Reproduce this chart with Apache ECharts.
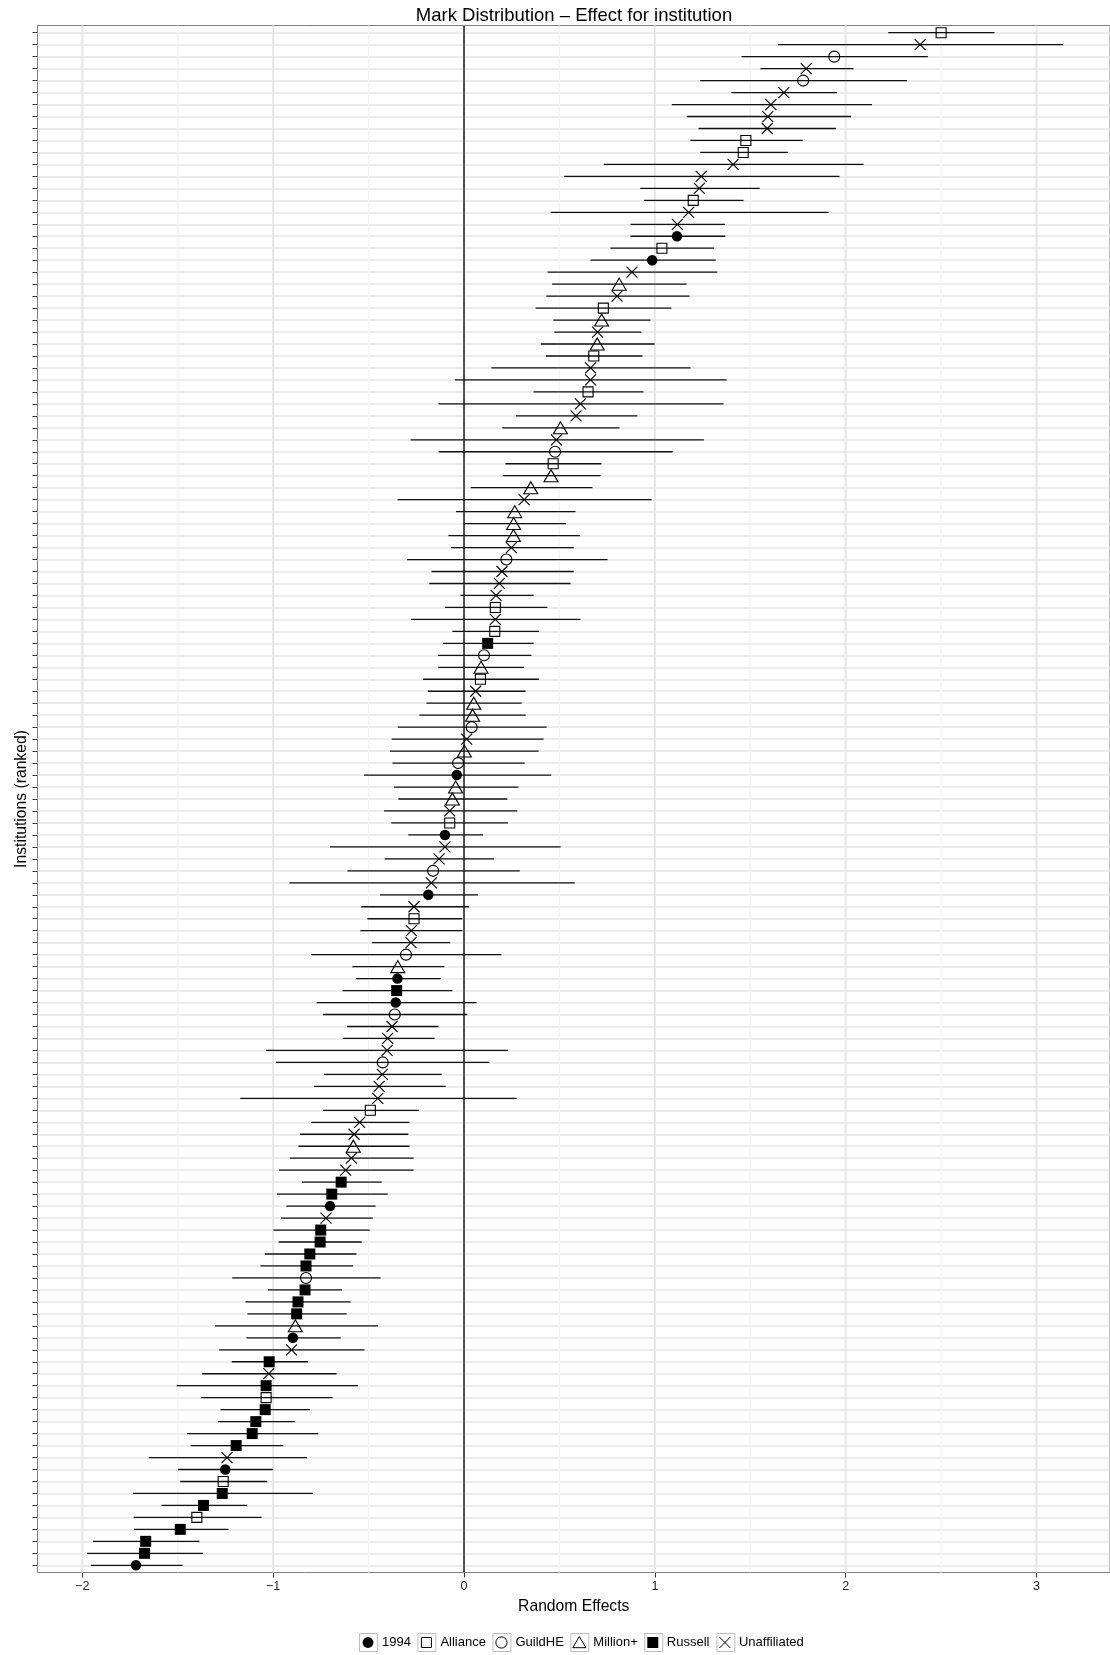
<!DOCTYPE html>
<html><head><meta charset="utf-8">
<script src="https://cdn.jsdelivr.net/npm/echarts@6/dist/echarts.min.js"></script>
<style>html,body{margin:0;padding:0;background:#fff}#c{width:1110px;height:1655px}</style>
</head><body><div id="c"></div>
<script>
// ---- DATA (ranked top to bottom) ----
const groups = ['1994', 'Alliance', 'GuildHE', 'Million+', 'Russell', 'Unaffiliated'];
const groupCodes = { N: '1994', A: 'Alliance', G: 'GuildHE', M: 'Million+', R: 'Russell', U: 'Unaffiliated' };
const rowGroup = [
  'A','U','G','U','G','U','U','U','U','A',
  'A','U','U','U','A','U','U','N','A','N',
  'U','M','U','A','M','U','M','A','U','U',
  'A','U','U','M','U','G','A','M','M','U',
  'M','M','M','U','G','U','U','U','A','U',
  'A','R','G','M','A','U','M','M','G','U',
  'M','G','N','M','M','U','A','N','U','U',
  'G','U','N','U','A','U','U','G','M','N',
  'R','N','G','U','U','U','G','U','U','U',
  'A','U','U','M','U','U','R','R','N','U',
  'R','R','R','R','G','R','R','R','M','N',
  'U','R','U','R','A','R','R','R','R','U',
  'N','A','R','R','A','R','R','R','N'
];
const estimates = [
  2.500, 2.390, 1.940, 1.793, 1.777, 1.676, 1.608, 1.592, 1.589, 1.477,
  1.463, 1.410, 1.243, 1.233, 1.201, 1.177, 1.118, 1.116, 1.037, 0.986,
  0.880, 0.813, 0.802, 0.730, 0.721, 0.700, 0.698, 0.680, 0.663, 0.663,
  0.650, 0.610, 0.587, 0.505, 0.484, 0.477, 0.467, 0.456, 0.350, 0.315,
  0.266, 0.260, 0.259, 0.248, 0.222, 0.199, 0.185, 0.168, 0.164, 0.164,
  0.161, 0.124, 0.105, 0.089, 0.086, 0.061, 0.051, 0.045, 0.040, 0.014,
  0.002, -0.031, -0.038, -0.044, -0.061, -0.075, -0.075, -0.100, -0.100, -0.131,
  -0.162, -0.171, -0.187, -0.262, -0.262, -0.276, -0.278, -0.304, -0.347, -0.349,
  -0.353, -0.358, -0.363, -0.377, -0.400, -0.403, -0.426, -0.428, -0.445, -0.452,
  -0.491, -0.547, -0.576, -0.580, -0.590, -0.620, -0.644, -0.693, -0.702, -0.723,
  -0.751, -0.754, -0.808, -0.828, -0.828, -0.833, -0.870, -0.877, -0.884, -0.897,
  -0.904, -1.021, -1.023, -1.037, -1.037, -1.042, -1.091, -1.110, -1.194, -1.242,
  -1.251, -1.262, -1.267, -1.365, -1.400, -1.487, -1.668, -1.674, -1.719
];
const lower = [
  2.223, 1.645, 1.454, 1.553, 1.238, 1.401, 1.089, 1.167, 1.229, 1.186,
  1.238, 0.732, 0.525, 0.923, 0.943, 0.454, 0.872, 0.872, 0.767, 0.663,
  0.438, 0.462, 0.431, 0.375, 0.468, 0.473, 0.403, 0.429, 0.143, -0.048,
  0.364, -0.134, 0.272, 0.201, -0.280, -0.133, 0.217, 0.203, 0.035, -0.348,
  -0.042, -0.003, -0.082, -0.068, -0.299, -0.170, -0.182, -0.019, -0.100, -0.278,
  -0.061, -0.110, -0.136, -0.135, -0.215, -0.190, -0.197, -0.234, -0.347, -0.379,
  -0.388, -0.375, -0.524, -0.368, -0.344, -0.419, -0.381, -0.292, -0.702, -0.416,
  -0.611, -0.915, -0.440, -0.538, -0.506, -0.543, -0.482, -0.801, -0.585, -0.566,
  -0.637, -0.772, -0.740, -0.613, -0.636, -1.037, -0.985, -0.733, -0.787, -1.173,
  -0.739, -0.801, -0.859, -0.868, -0.913, -0.969, -0.849, -0.980, -0.931, -0.959,
  -0.999, -0.971, -1.044, -1.067, -1.215, -1.027, -1.145, -1.135, -1.305, -1.140,
  -1.283, -1.217, -1.372, -1.506, -1.377, -1.276, -1.290, -1.452, -1.433, -1.652,
  -1.499, -1.487, -1.735, -1.585, -1.731, -1.729, -1.944, -1.976, -1.956
];
const upper = [
  2.780, 3.140, 2.431, 2.041, 2.321, 1.954, 2.138, 2.028, 1.949, 1.775,
  1.697, 2.094, 1.968, 1.550, 1.465, 1.911, 1.367, 1.369, 1.310, 1.319,
  1.327, 1.166, 1.182, 1.087, 0.977, 0.929, 0.998, 0.935, 1.187, 1.376,
  0.940, 1.360, 0.908, 0.815, 1.257, 1.093, 0.720, 0.715, 0.673, 0.983,
  0.584, 0.535, 0.607, 0.575, 0.752, 0.575, 0.558, 0.365, 0.437, 0.610,
  0.393, 0.365, 0.353, 0.315, 0.392, 0.323, 0.302, 0.323, 0.433, 0.417,
  0.391, 0.318, 0.457, 0.285, 0.227, 0.279, 0.230, 0.100, 0.506, 0.157,
  0.292, 0.580, 0.073, 0.026, -0.009, -0.009, -0.072, 0.196, -0.103, -0.122,
  -0.061, 0.066, 0.017, -0.134, -0.154, 0.230, 0.133, -0.117, -0.096, 0.276,
  -0.237, -0.285, -0.292, -0.285, -0.264, -0.264, -0.431, -0.400, -0.463, -0.478,
  -0.494, -0.536, -0.564, -0.581, -0.437, -0.639, -0.595, -0.615, -0.450, -0.646,
  -0.522, -0.817, -0.668, -0.556, -0.689, -0.808, -0.887, -0.764, -0.947, -0.823,
  -1.000, -1.031, -0.792, -1.136, -1.061, -1.234, -1.386, -1.368, -1.475
];
const xTicks = [-2, -1, 0, 1, 2, 3];
const xMinorTicks = [-1.5, -0.5, 0.5, 1.5, 2.5];
const zeroLine = [0];

// ---- STYLE ----
const FONT = "'Liberation Sans', Arial, Helvetica, sans-serif";
const X_MIN = -2.235, X_MAX = 3.385;
const N = estimates.length;
const CROSS = 'path://M0,0L10,10M10,0L0,10';
const groupStyle = {
  '1994':         { symbol: 'circle',   size: 10.5, item: { color: '#000', opacity: 1 } },
  'Alliance':     { symbol: 'rect',     size: 10,   item: { color: 'rgba(0,0,0,0)', borderColor: '#000', borderWidth: 1.1, opacity: 1 } },
  'GuildHE':      { symbol: 'circle',   size: 11,   item: { color: 'rgba(0,0,0,0)', borderColor: '#000', borderWidth: 1.1, opacity: 1 } },
  'Million+':     { symbol: 'triangle', size: [14, 12], item: { color: 'rgba(0,0,0,0)', borderColor: '#000', borderWidth: 1.1, opacity: 1 } },
  'Russell':      { symbol: 'rect',     size: 11,   item: { color: '#000', opacity: 1 } },
  'Unaffiliated': { symbol: CROSS,      size: 11,   item: { color: 'rgba(0,0,0,0)', borderColor: '#000', borderWidth: 1.1, opacity: 1 } }
};
// legend icons: symbol centred in an 18x18 box (corner moveTos keep the box)
const BOX = 'M0,0M18,18';
const legendIcons = {
  '1994': 'path://' + BOX + 'M14.4,9A5.4,5.4,0,1,1,3.6,9A5.4,5.4,0,1,1,14.4,9Z',
  'Alliance': 'path://' + BOX + 'M4,4L14,4L14,14L4,14Z',
  'GuildHE': 'path://' + BOX + 'M14.6,9A5.6,5.6,0,1,1,3.4,9A5.6,5.6,0,1,1,14.6,9Z',
  'Million+': 'path://' + BOX + 'M9,3L15.6,14.2L2.4,14.2Z',
  'Russell': 'path://' + BOX + 'M3.5,3.5L14.5,3.5L14.5,14.5L3.5,14.5Z',
  'Unaffiliated': 'path://' + BOX + 'M3.5,3.5L14.5,14.5M14.5,3.5L3.5,14.5'
};

const scatterSeries = groups.map(g => {
  const st = groupStyle[g];
  const data = [];
  rowGroup.forEach((c, i) => { if (groupCodes[c] === g) data.push([estimates[i], i]); });
  return {
    name: g, type: 'scatter', xAxisIndex: 1, yAxisIndex: 1,
    symbol: st.symbol, symbolSize: st.size, itemStyle: st.item,
    data, z: 5, silent: true
  };
});

const vLine = (color, width) => (params, api) => {
  const x = api.coord([api.value(0), 0])[0];
  const cs = params.coordSys;
  return { type: 'line', shape: { x1: x, y1: cs.y, x2: x, y2: cs.y + cs.height },
           style: { stroke: color, lineWidth: width } };
};

const chart = echarts.init(document.getElementById('c'), null, { renderer: 'canvas' });
chart.setOption({
  animation: false,
  backgroundColor: '#fff',
  textStyle: { fontFamily: FONT },
  title: {
    text: 'Mark Distribution \u2013 Effect for institution',
    left: 574, top: 6, padding: 0, textAlign: 'center',
    textStyle: { fontSize: 18.5, fontWeight: 'normal', color: '#000', fontFamily: FONT }
  },
  grid: [
    { left: 37.5, width: 1073.5, top: 25.5, height: 1547, show: true, borderColor: '#7f7f7f', borderWidth: 1, backgroundColor: 'rgba(0,0,0,0)' },
    { left: 37.5, width: 1073.5, top: 32.7, height: 1532.6 }
  ],
  xAxis: [
    { type: 'value', gridIndex: 0, min: X_MIN, max: X_MAX,
      splitLine: { show: false }, axisLine: { show: false, onZero: false },
      axisTick: { show: true, customValues: xTicks, length: 5, lineStyle: { color: '#333' } },
      axisLabel: { customValues: xTicks, formatter: v => String(v).replace('-', '\u2212'), margin: 8, fontSize: 12.5, color: '#222', fontFamily: FONT },
      name: 'Random Effects', nameLocation: 'middle', nameGap: 21,
      nameTextStyle: { fontSize: 15.7, color: '#000', fontFamily: FONT } },
    { type: 'value', gridIndex: 1, min: X_MIN, max: X_MAX, show: false }
  ],
  yAxis: [
    { type: 'value', gridIndex: 0, min: 0, max: 1, show: false },
    { type: 'value', gridIndex: 1, min: 0, max: N - 1, interval: 1, inverse: true,
      axisLine: { show: false, onZero: false }, axisLabel: { show: false },
      axisTick: { show: true, length: 5, lineStyle: { color: '#333' } },
      splitLine: { show: true, lineStyle: { color: '#E6E6E6', width: 1.6 } },
      name: 'Institutions (ranked)', nameLocation: 'middle', nameRotate: 90, nameGap: 8,
      nameTextStyle: { fontSize: 15.7, color: '#000', fontFamily: FONT } }
  ],
  legend: [
    { data: groups.map(g => ({ name: g, icon: 'rect' })), orient: 'horizontal',
      left: 359, top: 1633, padding: 0, itemGap: 6, itemWidth: 18, itemHeight: 18,
      selectedMode: false, z: 4,
      itemStyle: { color: '#fff', borderColor: '#BDBDBD', borderWidth: 1 },
      textStyle: { fontSize: 13, color: 'rgba(0,0,0,0)', fontFamily: FONT } },
    { data: groups.map(g => ({ name: g, icon: legendIcons[g] })), orient: 'horizontal',
      left: 359, top: 1633, padding: 0, itemGap: 6, itemWidth: 18, itemHeight: 18,
      selectedMode: false, z: 5,
      itemStyle: { borderWidth: 1 },
      textStyle: { fontSize: 13, color: '#000', fontFamily: FONT } }
  ],
  series: [
    { type: 'custom', name: 'minorGrid', xAxisIndex: 0, yAxisIndex: 0, silent: true, z: 1,
      data: xMinorTicks.map(v => [v, 0]), encode: { x: 0, y: 1 }, renderItem: vLine('#F3F3F3', 1.2) },
    { type: 'custom', name: 'majorGrid', xAxisIndex: 0, yAxisIndex: 0, silent: true, z: 1,
      data: xTicks.map(v => [v, 0]), encode: { x: 0, y: 1 }, renderItem: vLine('#E6E6E6', 2) },
    { type: 'custom', name: 'zero', xAxisIndex: 0, yAxisIndex: 0, silent: true, z: 2,
      data: zeroLine.map(v => [v, 0]), encode: { x: 0, y: 1 }, renderItem: vLine('#000', 1.3) },
    { type: 'custom', name: 'ci', xAxisIndex: 1, yAxisIndex: 1, silent: true, z: 3,
      data: estimates.map((e, i) => [lower[i], upper[i], i]),
      encode: { x: [0, 1], y: 2 },
      renderItem: (params, api) => {
        const a = api.coord([api.value(0), api.value(2)]);
        const b = api.coord([api.value(1), api.value(2)]);
        return { type: 'line', shape: { x1: a[0], y1: a[1], x2: b[0], y2: b[1] },
                 style: { stroke: '#111', lineWidth: 1.3 } };
      } },
    ...scatterSeries
  ]
});
</script>
</body></html>
